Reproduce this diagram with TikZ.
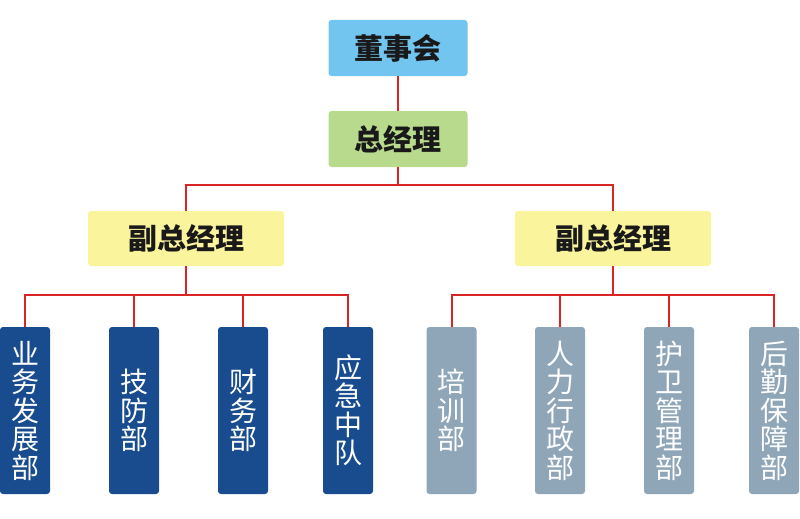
\documentclass[tikz,border=0pt]{standalone}
\usepackage{fontspec}
\newfontfamily\cjk{Noto Sans CJK SC}
\definecolor{boardblue}{HTML}{72C5EE}
\definecolor{gmgreen}{HTML}{B7DA8C}
\definecolor{vpyellow}{HTML}{FAF49C}
\definecolor{deptblue}{HTML}{184C8E}
\definecolor{deptgrey}{HTML}{8FA6B9}
\definecolor{linkred}{HTML}{DD2424}
\begin{document}
\begin{tikzpicture}[
    x=1pt, y=-1pt,
    box/.style={rounded corners=3pt, minimum width=139pt, minimum height=56pt, inner sep=0pt, text=black!90, font=\cjk\bfseries\fontsize{29}{32}\selectfont},
    board/.style={box, fill=boardblue},
    gm/.style={box, fill=gmgreen},
    vp/.style={box, fill=vpyellow, minimum width=196pt, minimum height=55pt},
    dept/.style={rounded corners=3pt, minimum width=50pt, minimum height=167pt, inner sep=0pt, align=center, text=white, font=\cjk\fontsize{28}{28.5}\selectfont},
    deptA/.style={dept, fill=deptblue},
    deptB/.style={dept, fill=deptgrey},
    link/.style={draw=linkred, line width=2pt}
]
    \useasboundingbox (0,0) rectangle (800,519);

    % Top levels
    \node[board] (board) at (398,48) {董事会};
    \node[gm] (gm) at (398,139) {总经理};
    \node[vp] (vpL) at (186,238.5) {副总经理};
    \node[vp] (vpR) at (613,238.5) {副总经理};

    % Departments
    \node[deptA] (d1) at (25,410.5) {业\\务\\发\\展\\部};
    \node[deptA] (d2) at (134,410.5) {技\\防\\部};
    \node[deptA] (d3) at (243,410.5) {财\\务\\部};
    \node[deptA] (d4) at (348,410.5) {应\\急\\中\\队};
    \node[deptB] (d5) at (451.5,410.5) {培\\训\\部};
    \node[deptB] (d6) at (560,410.5) {人\\力\\行\\政\\部};
    \node[deptB] (d7) at (669,410.5) {护\\卫\\管\\理\\部};
    \node[deptB] (d8) at (774,410.5) {后\\勤\\保\\障\\部};

    % Links
    \draw[link] (board.south) -- (gm.north);
    \draw[link] (gm.south) -- ++(0,18) -| (vpL.north);
    \draw[link] (gm.south) -- ++(0,18) -| (vpR.north);
    \foreach \d in {d1,d2,d3,d4}
        \draw[link] (vpL.south) -- ++(0,29) -| (\d.north);
    \foreach \d in {d5,d6,d7,d8}
        \draw[link] (vpR.south) -- ++(0,29) -| (\d.north);
\end{tikzpicture}
\end{document}
